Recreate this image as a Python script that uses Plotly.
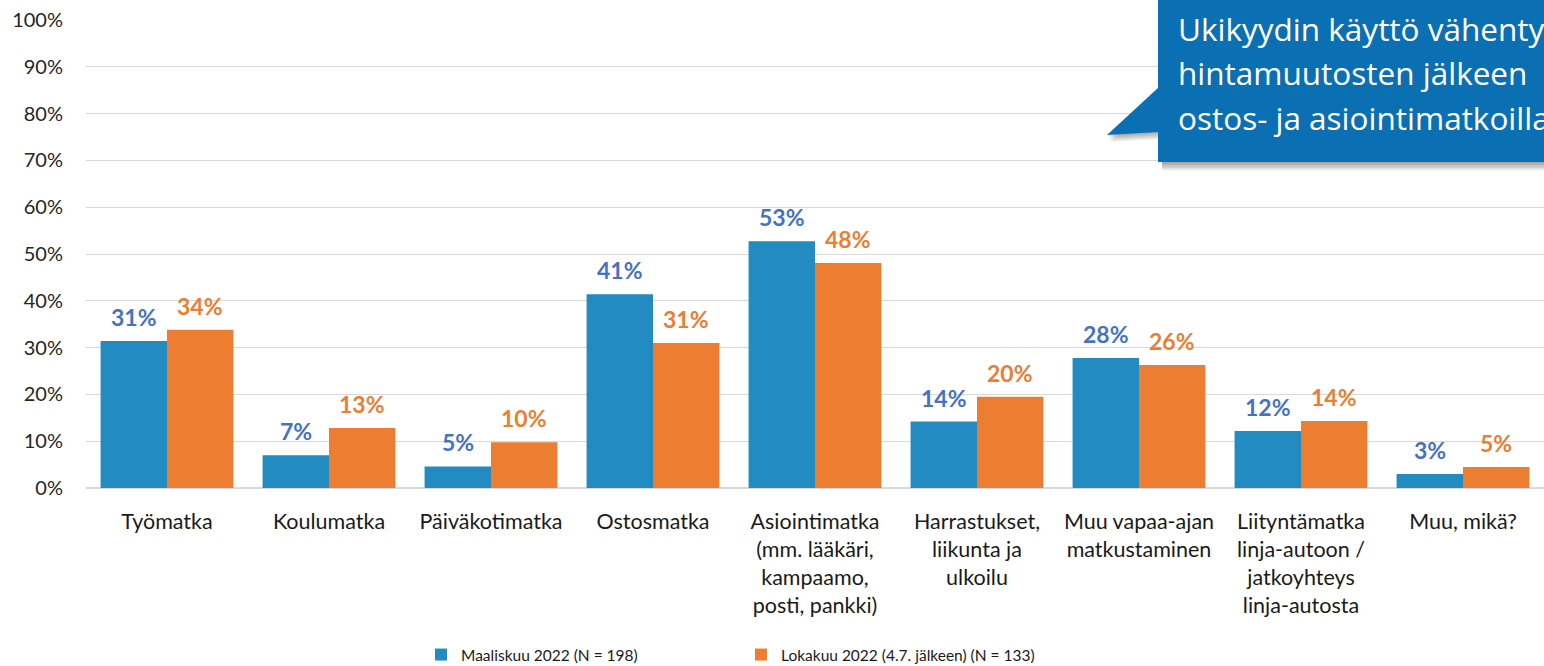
import plotly.graph_objects as go

categories = [
    "Työmatka", "Koulumatka", "Päiväkotimatka", "Ostosmatka",
    "Asiointimatka<br>(mm. lääkäri,<br>kampaamo,<br>posti, pankki)",
    "Harrastukset,<br>liikunta ja<br>ulkoilu",
    "Muu vapaa-ajan<br>matkustaminen",
    "Liityntämatka<br>linja-autoon /<br>jatkoyhteys<br>linja-autosta",
    "Muu, mikä?",
]
series_names = ["Maaliskuu 2022 (N = 198)", "Lokakuu 2022 (4.7. jälkeen) (N = 133)"]
maaliskuu = [31.4, 7.0, 4.6, 41.4, 52.7, 14.2, 27.8, 12.2, 3.0]
lokakuu = [33.8, 12.8, 9.8, 31.0, 48.1, 19.5, 26.3, 14.3, 4.5]
labels_m = ["31%", "7%", "5%", "41%", "53%", "14%", "28%", "12%", "3%"]
labels_l = ["34%", "13%", "10%", "31%", "48%", "20%", "26%", "14%", "5%"]
y_ticks = [0, 10, 20, 30, 40, 50, 60, 70, 80, 90, 100]
callout_lines = ["Ukikyydin käyttö vähentynyt", "hintamuutosten jälkeen", "ostos- ja asiointimatkoilla"]

W, H = 1544, 666
ML, MR, MT, MB = 86, 0, 20, 178
FONT = "Lato"
BAR_BLUE = "#228BC2"
BAR_ORANGE = "#ED7D31"
TXT_BLUE = "#4472C4"
TXT_ORANGE = "#ED7D31"
CALLOUT = "#0B6FB3"
BARGAP = 0.18


def px(x):
    return (x - ML) / (W - ML - MR)


def py(y):
    return (H - MB - y) / (H - MT - MB)


fig = go.Figure()
fig.add_trace(go.Bar(x=categories, y=maaliskuu, name=series_names[0],
                     marker=dict(color=BAR_BLUE, line=dict(width=0))))
fig.add_trace(go.Bar(x=categories, y=lokakuu, name=series_names[1],
                     marker=dict(color=BAR_ORANGE, line=dict(width=0))))

cat_w = (W - ML - MR) / len(categories)
bar_w = cat_w * (1 - BARGAP) / 2
annotations = []
for vals, labs, col, sign in ((maaliskuu, labels_m, TXT_BLUE, -1), (lokakuu, labels_l, TXT_ORANGE, 1)):
    for c, v, t in zip(categories, vals, labs):
        annotations.append(dict(
            x=c, y=v, xref="x", yref="y", text=t, showarrow=False,
            xshift=sign * bar_w / 2, yshift=24, yanchor="middle", xanchor="center",
            font=dict(family=FONT, size=23, color=col, weight="bold"),
        ))

# callout shapes
shapes = []
BX0, BY0, BX1, BY1 = 1158, -10, 1600, 162
TRI = [(1159, 87), (1107, 135), (1159, 132)]


def tri_path(dx, dy):
    p = [(x + dx, y + dy) for x, y in TRI]
    return "M " + " L ".join(f"{px(x)},{py(y)}" for x, y in p) + " Z"


for k in range(1, 8):
    shapes.append(dict(type="rect", xref="paper", yref="paper",
                       x0=px(BX0 + 4), x1=px(BX1), y0=py(BY1 + k * 1.2), y1=py(BY1 - 5),
                       fillcolor="rgba(0,0,0,0.06)", line=dict(width=0), layer="above"))
    shapes.append(dict(type="path", xref="paper", yref="paper", path=tri_path(k * 0.5, k * 1.0),
                       fillcolor="rgba(0,0,0,0.05)", line=dict(width=0), layer="above"))
shapes.append(dict(type="rect", xref="paper", yref="paper",
                   x0=px(BX0), x1=px(BX1), y0=py(BY1), y1=py(BY0),
                   fillcolor=CALLOUT, line=dict(width=0), layer="above"))
shapes.append(dict(type="path", xref="paper", yref="paper", path=tri_path(0, 0),
                   fillcolor=CALLOUT, line=dict(width=0), layer="above"))

for i, line in enumerate(callout_lines):
    annotations.append(dict(
        x=px(1176), y=py(28 + 44.5 * i), xref="paper", yref="paper", text=line,
        showarrow=False, xanchor="left", yanchor="middle",
        font=dict(family="Open Sans", size=31.5, color="white"),
    ))

fig.update_layout(
    width=W, height=H,
    margin=dict(l=ML, r=MR, t=MT, b=MB, autoexpand=False),
    paper_bgcolor="white", plot_bgcolor="white",
    barmode="group", bargap=BARGAP, bargroupgap=0.0,
    font=dict(family=FONT, size=21, color="#1a1a1a"),
    xaxis=dict(showgrid=False, showline=True, linecolor="#D9D9D9", linewidth=1,
               ticks="", ticklabelstandoff=14, tickfont=dict(size=21.5, color="#1a1a1a"),
               fixedrange=True),
    yaxis=dict(range=[0, 100], tickvals=y_ticks, ticktext=[f"{t}%" for t in y_ticks],
               showgrid=True, gridcolor="#D9D9D9", gridwidth=1, zeroline=True,
               zerolinecolor="#D9D9D9", ticks="", ticklabelstandoff=22,
               tickfont=dict(size=20, color="#262626")),
    legend=dict(orientation="h", x=px(421), y=py(655), xanchor="left", yanchor="middle",
                font=dict(size=15.5, color="#1a1a1a"), entrywidth=275, traceorder="normal",
                itemwidth=30),
    annotations=annotations,
    shapes=shapes,
    showlegend=True,
)

fig.write_html("out.html", config={"displayModeBar": False},
               post_script="document.body.style.margin='0';document.body.style.overflow='hidden';")
